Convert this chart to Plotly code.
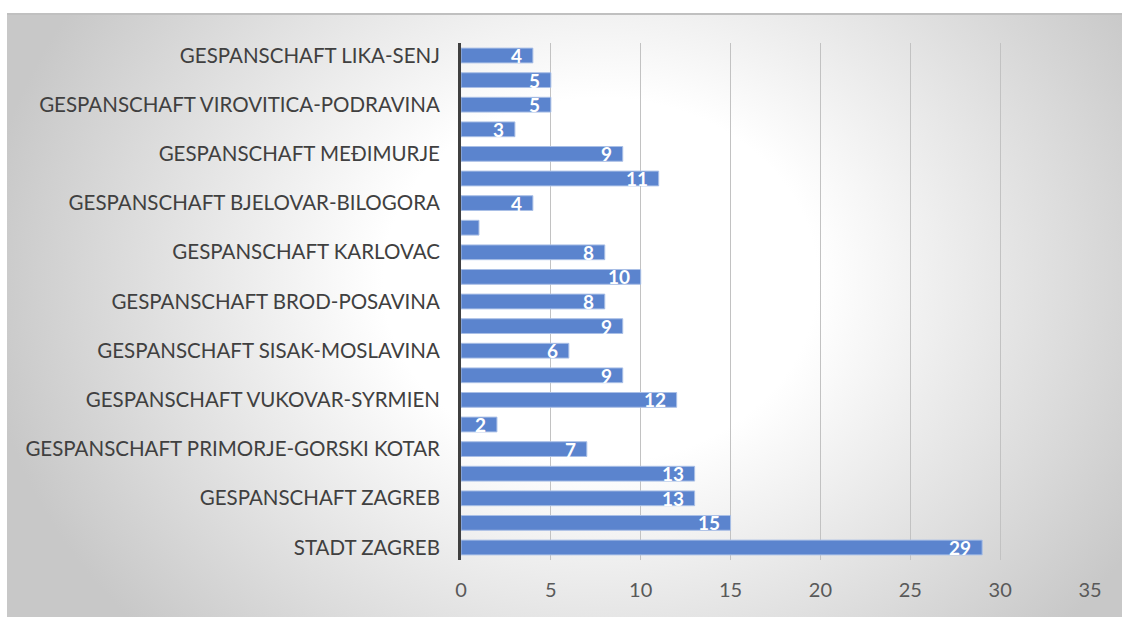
import base64
import plotly.graph_objects as go

# Categories from bottom to top (Plotly draws first category at bottom)
categories = [
    "STADT ZAGREB",
    "GESPANSCHAFT SPLIT-DALMATIEN",
    "GESPANSCHAFT ZAGREB",
    "GESPANSCHAFT OSIJEK-BARANJA",
    "GESPANSCHAFT PRIMORJE-GORSKI KOTAR",
    "GESPANSCHAFT ISTRIEN",
    "GESPANSCHAFT VUKOVAR-SYRMIEN",
    "GESPANSCHAFT ZADAR",
    "GESPANSCHAFT SISAK-MOSLAVINA",
    "GESPANSCHAFT VARAŽDIN",
    "GESPANSCHAFT BROD-POSAVINA",
    "GESPANSCHAFT DUBROVNIK-NERETVA",
    "GESPANSCHAFT KARLOVAC",
    "GESPANSCHAFT ŠIBENIK-KNIN",
    "GESPANSCHAFT BJELOVAR-BILOGORA",
    "GESPANSCHAFT KOPRIVNICA-KRIŽEVCI",
    "GESPANSCHAFT MEĐIMURJE",
    "GESPANSCHAFT POŽEGA-SLAWONIEN",
    "GESPANSCHAFT VIROVITICA-PODRAVINA",
    "GESPANSCHAFT KRAPINA-ZAGORJE",
    "GESPANSCHAFT LIKA-SENJ",
]
values = [29, 15, 13, 13, 7, 2, 12, 9, 6, 9, 8, 10, 8, 1, 4, 11, 9, 3, 5, 5, 4]

# Only every other category label is shown (as in the original)
shown_labels = categories[::2]
x_ticks = [0, 5, 10, 15, 20, 25, 30, 35]

W, H = 1125, 617
ml, mr, mt, mb = 461, 35, 43, 57
pw, ph = W - ml - mr, H - mt - mb

# Radial gradient background image (chart area)
bx0, by0, bx1, by1 = 7, 13, 1122, 617
bw, bh = bx1 - bx0, by1 - by0
svg = (
    f'<svg xmlns="http://www.w3.org/2000/svg" width="{bw}" height="{bh}" '
    f'viewBox="0 0 {bw} {bh}" preserveAspectRatio="none">'
    '<defs><radialGradient id="g" gradientUnits="userSpaceOnUse" '
    'cx="0" cy="0" r="1" gradientTransform="translate(593 267) scale(620 520)">'
    '<stop offset="0" stop-color="#ffffff"/>'
    '<stop offset="0.35" stop-color="#ffffff"/>'
    '<stop offset="1" stop-color="#c8c8c8"/>'
    '</radialGradient></defs>'
    f'<rect x="0" y="0" width="{bw}" height="{bh}" fill="url(#g)"/>'
    f'<rect x="0" y="0" width="{bw}" height="2" fill="#c0c0c0"/>'
    '</svg>'
)
src = "data:image/svg+xml;base64," + base64.b64encode(svg.encode()).decode()

img_x = (bx0 - ml) / pw
img_y = (H - mb - by0) / ph
img_w = bw / pw
img_h = bh / ph

fig = go.Figure(
    go.Bar(
        x=values,
        y=categories,
        orientation="h",
        marker=dict(color="#5B84CE", line=dict(color="#A9BFE6", width=1)),
        width=0.6,
        hoverinfo="x+y",
    )
)

# Data labels: white bold, inside the end of each bar (hidden for the tiny bar)
for cat, val in zip(categories, values):
    if val > 1:
        fig.add_annotation(
            x=val,
            y=cat,
            text=str(val),
            showarrow=False,
            xanchor="right",
            yanchor="middle",
            xshift=-10,
            yshift=0,
            borderpad=0,
            font=dict(color="white", size=19, family="Lato", weight="bold"),
        )

fig.update_layout(
    width=W,
    height=H,
    margin=dict(l=ml, r=mr, t=mt, b=mb, autoexpand=False),
    paper_bgcolor="white",
    plot_bgcolor="rgba(0,0,0,0)",
    showlegend=False,
    font=dict(family="Lato", color="#404040"),
    images=[
        dict(
            source=src,
            xref="paper",
            yref="paper",
            x=img_x,
            y=img_y,
            sizex=img_w,
            sizey=img_h,
            sizing="stretch",
            xanchor="left",
            yanchor="top",
            layer="below",
        )
    ],
    xaxis=dict(
        range=[0, 35],
        tickvals=x_ticks,
        showgrid=True,
        gridcolor="#c2c2c2",
        gridwidth=1,
        zeroline=False,
        showline=False,
        tickfont=dict(size=20, color="#595959"),
        ticks="",
        ticklen=0,
        ticklabelstandoff=16,
    ),
    yaxis=dict(
        type="category",
        categoryorder="array",
        categoryarray=categories,
        tickvals=shown_labels,
        ticktext=shown_labels,
        showgrid=False,
        showline=True,
        linecolor="#404040",
        linewidth=3,
        tickfont=dict(size=20.5, color="#404040"),
        ticks="",
        ticklabelstandoff=14,
    ),
)

fig.write_html(
    "out.html",
    config={"displayModeBar": False},
    post_script="document.body.style.margin='0';document.body.style.padding='0';",
)
